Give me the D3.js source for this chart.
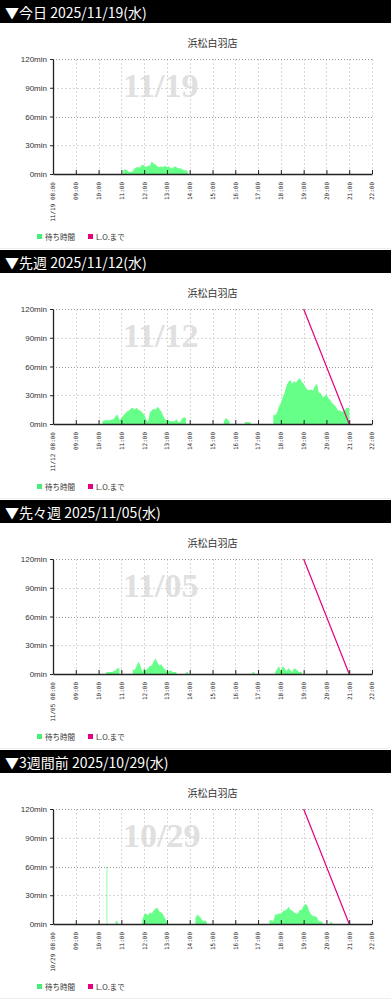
<!DOCTYPE html>
<html>
<head>
<meta charset="utf-8">
<script src="https://cdn.jsdelivr.net/npm/d3@7"></script>
<style>
body { margin: 0; background: #fff; }
</style>
</head>
<body>
<div id="page"></div>
<script>
// tick labels / categories
var hours = ["08:00", "09:00", "10:00", "11:00", "12:00", "13:00", "14:00", "15:00",
    "16:00", "17:00", "18:00", "19:00", "20:00", "21:00", "22:00"];
var yTicks = [0, 30, 60, 90, 120];
var storeName = "浜松白羽店";
var headers = ["▼今日 2025/11/19(水)", "▼先週 2025/11/12(水)", "▼先々週 2025/11/05(水)", "▼3週間前 2025/10/29(水)"];
var dates = ["11/19", "11/12", "11/05", "10/29"];
var legendLabels = ["待ち時間", "L.O.まで"];

// waiting time (min), segments of readings every `step` minutes
var wait1119 = [
    { start: "11:05", step: 5, values: [4, 5, 4, 2, 2, 3, 6, 7, 7, 7, 10, 9, 7, 9, 8, 13, 11, 10, 8, 7, 8, 7, 9, 7, 8, 6, 6, 8, 7, 6, 6, 5, 4, 4, 3] }
];
var wait1112 = [
    { start: "10:10", step: 5, values: [3, 4, 4, 4, 4, 5, 5, 8, 10, 4, 6, 9, 11, 13, 14, 16, 17, 15, 17, 15, 14, 12, 10, 5, 2,
        12, 14, 16, 15, 18, 16, 13, 9, 5, 4, 4, 3, 3, 3, 5, 2, 2, 6, 7, 6] },
    { start: "15:30", step: 5, values: [3, 6, 5, 2] },
    { start: "16:25", step: 5, values: [2, 2, 2, 2] },
    { start: "17:40", step: 5, values: [10, 9, 12, 18, 22, 28, 33, 40, 44, 46, 42, 45, 43, 46, 48, 44, 42, 38, 36, 35, 36, 35, 40, 42,
        33, 32, 28, 29, 31, 27, 25, 22, 20, 18, 14, 14, 13, 13, 16, 17, 17] }
];
var wait1105 = [
    { start: "10:20", step: 5, values: [2, 2, 2, 2, 3, 4, 6, 6] },
    { start: "11:30", step: 5, values: [5, 4, 8, 13, 9, 2, 6, 4, 6, 8, 9, 13, 16, 12, 9, 10, 7, 5, 2, 3, 4, 2, 2, 2] },
    { start: "13:50", step: 5, values: [2, 2] },
    { start: "16:45", step: 5, values: [2, 2] },
    { start: "17:45", step: 5, values: [2, 5, 8, 3, 8, 6, 3, 6, 4, 2, 6, 5, 3, 2, 2] }
];
var wait1029 = [
    { start: "10:21", step: 1, values: [60, 60, 60] },
    { start: "10:45", step: 5, values: [3, 3] },
    { start: "11:55", step: 5, values: [4, 10, 11, 9, 12, 11, 14, 16, 17, 13, 12, 10, 6, 2] },
    { start: "14:15", step: 5, values: [6, 10, 8, 6, 3, 4, 2] },
    { start: "17:30", step: 5, values: [4, 4, 3, 10, 10, 11, 11, 13, 14, 15, 18, 15, 14, 12, 11, 11, 15, 15, 19, 21, 19, 13, 10, 8, 8, 7, 3, 3, 2] },
    { start: "20:10", step: 5, values: [2, 2] }
];

// minutes left until last order
var lo1119 = [];
var lo1112 = [["19:00", 120], ["21:00", 0]];
var lo1105 = [["19:00", 120], ["21:00", 0]];
var lo1029 = [["19:00", 120], ["21:00", 0]];

var waits = [wait1119, wait1112, wait1105, wait1029];
var los = [lo1119, lo1112, lo1105, lo1029];

var width = 391;
var panelHeight = 250;
var green = "#66ff88";
var pink = "#e6007e";
var jpFont = "'Noto Sans CJK JP', sans-serif";

function toMin(s) {
    var p = s.split(":");
    return +p[0] * 60 + +p[1];
}

var x = d3.scaleLinear()
    .domain([toMin(hours[0]), toMin(hours[hours.length - 1])])
    .range([53, 372]);
var y = d3.scaleLinear()
    .domain([0, 120])
    .range([174, 59]);

var svg = d3.select("#page").append("svg")
    .attr("width", width)
    .attr("height", panelHeight * headers.length);

for (var i = 0; i < headers.length; i++) {
    drawPanel(svg.append("g").attr("transform", "translate(0," + (i * panelHeight) + ")"), i);
}

function drawPanel(g, i) {
    // header bar
    g.append("rect")
        .attr("width", width)
        .attr("height", 23)
        .attr("fill", "#000");
    g.append("text")
        .attr("x", 5)
        .attr("y", 17.5)
        .style("font-family", jpFont)
        .style("font-size", "14px")
        .attr("fill", "#fff")
        .text(headers[i]);

    g.append("text")
        .attr("x", (x.range()[0] + x.range()[1]) / 2)
        .attr("y", 47)
        .attr("text-anchor", "middle")
        .style("font-family", jpFont)
        .style("font-size", "10px")
        .attr("fill", "#333")
        .text(storeName);

    // watermark date
    g.append("text")
        .attr("x", 123)
        .attr("y", 97)
        .style("font-family", "'Liberation Serif', serif")
        .style("font-weight", "bold")
        .style("font-size", "34px")
        .attr("fill", "#e0e0e0")
        .text(dates[i]);

    // grid
    g.selectAll(".vgrid").data(hours.slice(1)).enter().append("line")
        .attr("x1", function(d) { return Math.round(x(toMin(d))) + 0.5; })
        .attr("x2", function(d) { return Math.round(x(toMin(d))) + 0.5; })
        .attr("y1", y(120))
        .attr("y2", y(0))
        .attr("stroke", "#d8d8d8")
        .attr("stroke-dasharray", "2,2");
    g.selectAll(".hgrid").data(yTicks.slice(1)).enter().append("line")
        .attr("x1", x.range()[0])
        .attr("x2", x.range()[1])
        .attr("y1", function(d) { return Math.round(y(d)) + 0.5; })
        .attr("y2", function(d) { return Math.round(y(d)) + 0.5; })
        .attr("stroke", function(d) { return d % 60 === 0 ? "#999" : "#d8d8d8"; })
        .attr("stroke-dasharray", function(d) { return d % 60 === 0 ? "1,2" : "2,2"; });

    // waiting time areas
    var area = d3.area()
        .x(function(d) { return x(d.t); })
        .y0(y(0))
        .y1(function(d) { return y(d.v); });
    waits[i].forEach(function(seg) {
        var pts = seg.values.map(function(v, k) {
            return { t: toMin(seg.start) + k * seg.step, v: v };
        });
        g.append("path")
            .datum(pts)
            .attr("d", area)
            .attr("fill", green);
    });

    // last order line
    if (los[i].length) {
        var line = d3.line()
            .x(function(d) { return x(toMin(d[0])); })
            .y(function(d) { return y(d[1]); });
        g.append("path")
            .datum(los[i])
            .attr("d", line)
            .attr("fill", "none")
            .attr("stroke", pink)
            .attr("stroke-width", 1.2);
    }

    // axes
    var xAxis = d3.axisBottom(x)
        .tickValues(hours.map(toMin))
        .tickSizeInner(-4)
        .tickSizeOuter(0)
        .tickFormat(function(d, k) {
            return k === 0 ? dates[i] + " " + hours[k] : hours[k];
        });
    var xg = g.append("g")
        .attr("transform", "translate(0," + y(0) + ")")
        .call(xAxis);
    xg.select(".domain").attr("stroke", "#222").attr("stroke-width", 1.3);
    xg.selectAll(".tick line").attr("stroke", "#222");
    xg.selectAll("text")
        .attr("transform", "rotate(-90)")
        .attr("x", -8)
        .attr("y", 0)
        .attr("dy", "0.32em")
        .attr("text-anchor", "end")
        .style("font-family", "'DejaVu Sans Mono', monospace")
        .style("font-size", "6px")
        .attr("fill", "#222");

    var yAxis = d3.axisLeft(y)
        .tickValues(yTicks)
        .tickSizeInner(3)
        .tickSizeOuter(0)
        .tickPadding(3)
        .tickFormat(function(d) { return d + "min"; });
    var yg = g.append("g")
        .attr("transform", "translate(" + x.range()[0] + ",0)")
        .call(yAxis);
    yg.select(".domain").attr("stroke", "#222").attr("stroke-width", 1.3);
    yg.selectAll(".tick line").attr("stroke", "#222");
    yg.selectAll("text")
        .style("font-family", "'Liberation Sans', Arial, sans-serif")
        .style("font-size", "8px")
        .attr("fill", "#333");

    // legend
    var legend = g.append("g").attr("transform", "translate(0,237)");
    var lx = [37, 88];
    legendLabels.forEach(function(label, k) {
        legend.append("rect")
            .attr("x", lx[k])
            .attr("y", -3)
            .attr("width", 5)
            .attr("height", 5)
            .attr("fill", k === 0 ? "#44ee77" : pink);
        legend.append("text")
            .attr("x", lx[k] + 8)
            .attr("y", 2.5)
            .style("font-family", jpFont)
            .style("font-size", "7.5px")
            .attr("fill", "#333")
            .text(label);
    });

    g.append("line")
        .attr("x1", 0)
        .attr("x2", width)
        .attr("y1", panelHeight - 1.5)
        .attr("y2", panelHeight - 1.5)
        .attr("stroke", "#eee");
}
</script>
</body>
</html>
